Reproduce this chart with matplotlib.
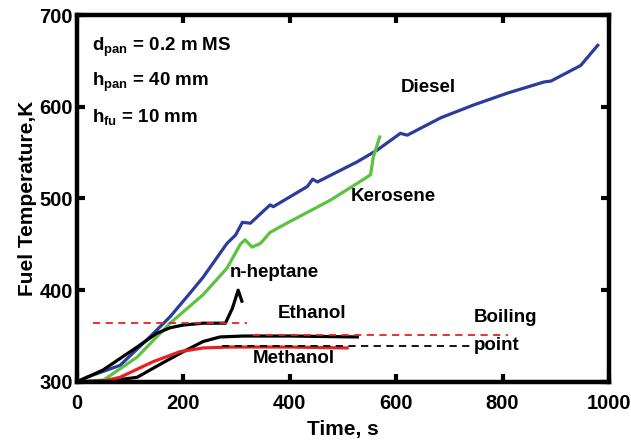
import matplotlib

matplotlib.use("Agg")
import matplotlib.pyplot as plt

plt.rcParams.update({
    "font.family": ["Liberation Sans", "DejaVu Sans"],
    "font.weight": "bold",
    "axes.labelweight": "bold",
    "mathtext.fontset": "custom",
    "mathtext.rm": "Liberation Sans:bold",
    "mathtext.it": "Liberation Sans:bold",
    "mathtext.bf": "Liberation Sans:bold",
})

# Temperature histories (time in s, temperature in K)
diesel_t = [0, 18, 81, 137, 175, 207, 237, 282, 298, 311, 326, 363, 369, 433,
            443, 452, 527, 565, 608, 621, 684, 746, 810, 878, 891, 947, 979]
diesel_T = [300, 305, 318, 349, 371, 393, 414, 451, 460, 474, 473, 493, 491, 513,
            521, 518, 540, 553, 571, 569, 588, 602, 615, 627, 628, 645, 667]

kerosene_t = [0, 50, 113, 175, 237, 282, 307, 316, 329, 345, 363, 388, 476,
              542, 552, 557, 569]
kerosene_T = [300, 302, 327, 364, 395, 424, 450, 455, 447, 451, 463, 471, 498,
              522, 526, 545, 567]

heptane_t = [0, 49, 113, 150, 175, 200, 237, 279, 292, 303, 310]
heptane_T = [300, 313, 338, 353, 359, 362, 364, 364, 380, 400, 388]

ethanol_t = [0, 60, 113, 162, 200, 237, 269, 313, 400, 527]
ethanol_T = [300, 301, 305, 321, 333, 344, 349, 350, 350, 349]

methanol_t = [0, 50, 81, 143, 194, 237, 288, 400, 508]
methanol_T = [300, 301, 305, 322, 333, 337, 338, 338, 337]

# boiling-point reference lines: (T, t_start, t_end)
bp_heptane = (364.5, 30, 320)
bp_ethanol = (351, 330, 811)
bp_methanol = (339, 273, 746)

fig = plt.figure(figsize=(6.31, 4.42), dpi=100)
ax = fig.add_axes([0.122, 0.136, 0.843, 0.830])

ax.plot(diesel_t, diesel_T, color="#2c3c9c", lw=2.3, clip_on=False)
ax.plot(kerosene_t, kerosene_T, color="#5cc23f", lw=2.3, clip_on=False)
ax.plot(ethanol_t, ethanol_T, color="black", lw=2.3, clip_on=False)
ax.plot(methanol_t, methanol_T, color="#e42224", lw=2.3, clip_on=False)
ax.plot(heptane_t, heptane_T, color="black", lw=2.3, clip_on=False)

ax.hlines(bp_heptane[0], bp_heptane[1], bp_heptane[2], colors="#e42224",
          linestyles=(0, (4, 3)), lw=1.3)
ax.hlines(bp_ethanol[0], bp_ethanol[1], bp_ethanol[2], colors="#e42224",
          linestyles=(0, (4, 3)), lw=1.3)
ax.hlines(bp_methanol[0], bp_methanol[1], bp_methanol[2], colors="black",
          linestyles=(0, (4, 3)), lw=1.3)

fs = 13.5
ax.text(608, 621, "Diesel", fontsize=fs, va="center")
ax.text(514, 502, "Kerosene", fontsize=fs, va="center")
ax.text(288, 419, "n-heptane", fontsize=fs, va="center")
ax.text(377, 375, "Ethanol", fontsize=fs, va="center")
ax.text(331, 326, "Methanol", fontsize=fs, va="center")
ax.text(746, 370, "Boiling", fontsize=fs, va="center")
ax.text(746, 340, "point", fontsize=fs, va="center")

ax.text(28, 665, r"d$_{\mathrm{pan}}$ = 0.2 m MS", fontsize=fs, va="center")
ax.text(28, 627, r"h$_{\mathrm{pan}}$ = 40 mm", fontsize=fs, va="center")
ax.text(28, 589, r"h$_{\mathrm{fu}}$ = 10 mm", fontsize=fs, va="center")

ax.set_xlim(0, 1000)
ax.set_ylim(300, 700)
ax.set_xticks(range(0, 1001, 200))
ax.set_yticks(range(300, 701, 100))
ax.tick_params(direction="in", top=True, right=True, length=6, width=3,
               labelsize=14.5)
ax.tick_params(axis="x", pad=9)
ax.tick_params(axis="y", pad=3)
for lbl in ax.get_xticklabels() + ax.get_yticklabels():
    lbl.set_fontweight("bold")
for s in ax.spines.values():
    s.set_linewidth(3.2)

ax.set_xlabel("Time, s", fontsize=15, labelpad=5)
ax.set_ylabel("Fuel Temperature,K", fontsize=15, labelpad=2)

fig.savefig("out.png", dpi=100)
